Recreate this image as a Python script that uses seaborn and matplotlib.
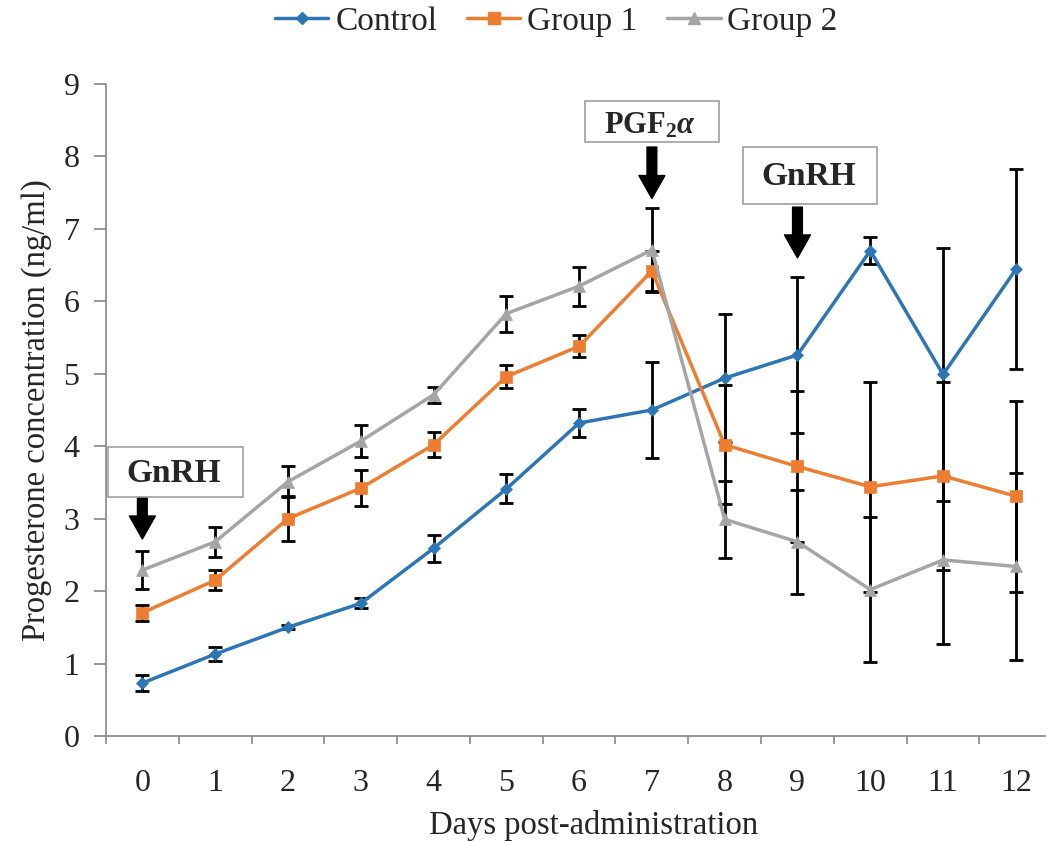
import matplotlib
matplotlib.use("Agg")
import matplotlib.pyplot as plt
import seaborn as sns
import pandas as pd
import numpy as np
from matplotlib.lines import Line2D
from matplotlib.patches import Rectangle

days = list(range(13))
control = [0.73, 1.13, 1.50, 1.83, 2.59, 3.41, 4.32, 4.50, 4.94, 5.26, 6.70, 4.99, 6.44]
control_err = [0.11, 0.10, 0.03, 0.07, 0.19, 0.20, 0.19, 0.66, 0.88, 1.08, 0.19, 1.75, 1.38]
group1 = [1.70, 2.15, 3.00, 3.42, 4.02, 4.96, 5.38, 6.42, 4.02, 3.72, 3.44, 3.59, 3.31]
group1_err = [0.11, 0.14, 0.31, 0.25, 0.17, 0.16, 0.15, 0.28, 0.82, 1.04, 1.45, 1.30, 1.32]
group2 = [2.29, 2.68, 3.51, 4.07, 4.71, 5.83, 6.21, 6.71, 2.99, 2.68, 2.02, 2.43, 2.34]
group2_err = [0.26, 0.21, 0.21, 0.22, 0.11, 0.25, 0.27, 0.58, 0.53, 0.72, 1.00, 1.16, 1.29]

series_names = ["Control", "Group 1", "Group 2"]
colors = ["#2E75B6", "#ED7D31", "#A5A5A5"]
markers = ["D", "s", "^"]
msizes = [6, 9, 8]

sns.set_theme(style="white")
plt.rcParams["font.family"] = ["Liberation Serif", "DejaVu Serif"]
plt.rcParams["mathtext.fontset"] = "custom"
plt.rcParams["mathtext.rm"] = "Liberation Serif"
plt.rcParams["mathtext.bf"] = "Liberation Serif:bold"
plt.rcParams["mathtext.it"] = "Liberation Serif:italic:bold"

frames = []
for name, vals, errs in zip(series_names, [control, group1, group2],
                            [control_err, group1_err, group2_err]):
    frames.append(pd.DataFrame({"Day": days, "P4": vals, "err": errs, "Group": name}))
df = pd.concat(frames, ignore_index=True)

fig = plt.figure(figsize=(10.46, 8.41), dpi=100)
ax = fig.add_axes([0.1013, 0.1249, 0.8977, 0.7752])

# error bars first (behind lines)
for name in series_names:
    sub = df[df["Group"] == name]
    ax.errorbar(sub["Day"], sub["P4"], yerr=sub["err"], fmt="none",
                ecolor="black", elinewidth=2, capsize=5, capthick=2, zorder=2)

sns.lineplot(data=df, x="Day", y="P4", hue="Group", style="Group",
             palette=colors, markers=markers, dashes=False, linewidth=2.5,
             markeredgewidth=0.5, ax=ax, zorder=3, legend=False)
for line, ms, c in zip(ax.get_lines()[-3:], msizes, colors):
    line.set_markersize(ms)
    line.set_markeredgecolor(c)

ax.set_xlim(-0.5, 12.4)
ax.set_ylim(0, 9)
ax.set_xticks(days)
ax.set_xticklabels([str(d) for d in days])
ax.set_xticks(np.arange(-0.5, 12.5, 1), minor=True)
ax.set_yticks(range(10))
ax.tick_params(axis="x", which="major", length=0, labelsize=23, pad=24)
ax.tick_params(axis="x", which="minor", length=6, width=1.2, color="#868686",
               direction="out", bottom=True)
ax.tick_params(axis="y", which="major", length=9, width=1.2, color="#868686",
               direction="out", left=True, labelsize=23, pad=10)

for side in ["top", "right"]:
    ax.spines[side].set_visible(False)
for side in ["left", "bottom"]:
    ax.spines[side].set_color("#868686")
    ax.spines[side].set_linewidth(1.2)

ax.set_xlabel("Days post-administration", fontsize=23.5)
ax.xaxis.label.set_va("center")
ax.xaxis.set_label_coords(0.519, -0.137)
ax.set_ylabel("Progesterone concentration (ng/ml)", fontsize=23.5, labelpad=8)

# legend
handles = [Line2D([0], [0], color=c, marker=m, markersize=ms, linewidth=2.5,
                  markeredgecolor=c) for c, m, ms in zip(colors, markers, msizes)]
fig.legend(handles, series_names, loc="center", bbox_to_anchor=(0.532, 0.974),
           ncol=3, frameon=False, fontsize=24, handlelength=1.6,
           columnspacing=0.9, handletextpad=0.2)

# annotation boxes with arrows
arrow_style = dict(arrowstyle="simple,head_length=0.75,head_width=0.85,tail_width=0.32",
                   color="black", mutation_scale=22, shrinkA=0, shrinkB=0)

# (text, box x0, x1, y0, y1, text x, text y, fontsize, arrow x, arrow y0, arrow y1)
annots = [("GnRH", -0.47, 1.38, 3.30, 3.99, 0.43, 3.62, 24, 0.0, 3.28, 2.72),
          (r"PGF$_\mathbf{2}$$\mathit{α}$", 6.08, 7.92, 8.20, 8.77, 6.97, 8.42, 22, 7.0, 8.13, 7.42),
          ("GnRH", 8.25, 10.09, 7.35, 8.135, 9.16, 7.72, 24, 9.0, 7.30, 6.60)]
for txt, bx0, bx1, by0, by1, tx, ty, fs, axx, ay0, ay1 in annots:
    ax.add_patch(Rectangle((bx0, by0), bx1 - bx0, by1 - by0, facecolor="white",
                           edgecolor="#A0A0A0", linewidth=1.2, zorder=4, clip_on=False))
    ax.text(tx, ty, txt, fontsize=fs, fontweight="bold", ha="center", va="center",
            zorder=5)
    ax.annotate("", xy=(axx, ay1), xytext=(axx, ay0), arrowprops=arrow_style, zorder=5)

fig.savefig("out.png", dpi=100)
